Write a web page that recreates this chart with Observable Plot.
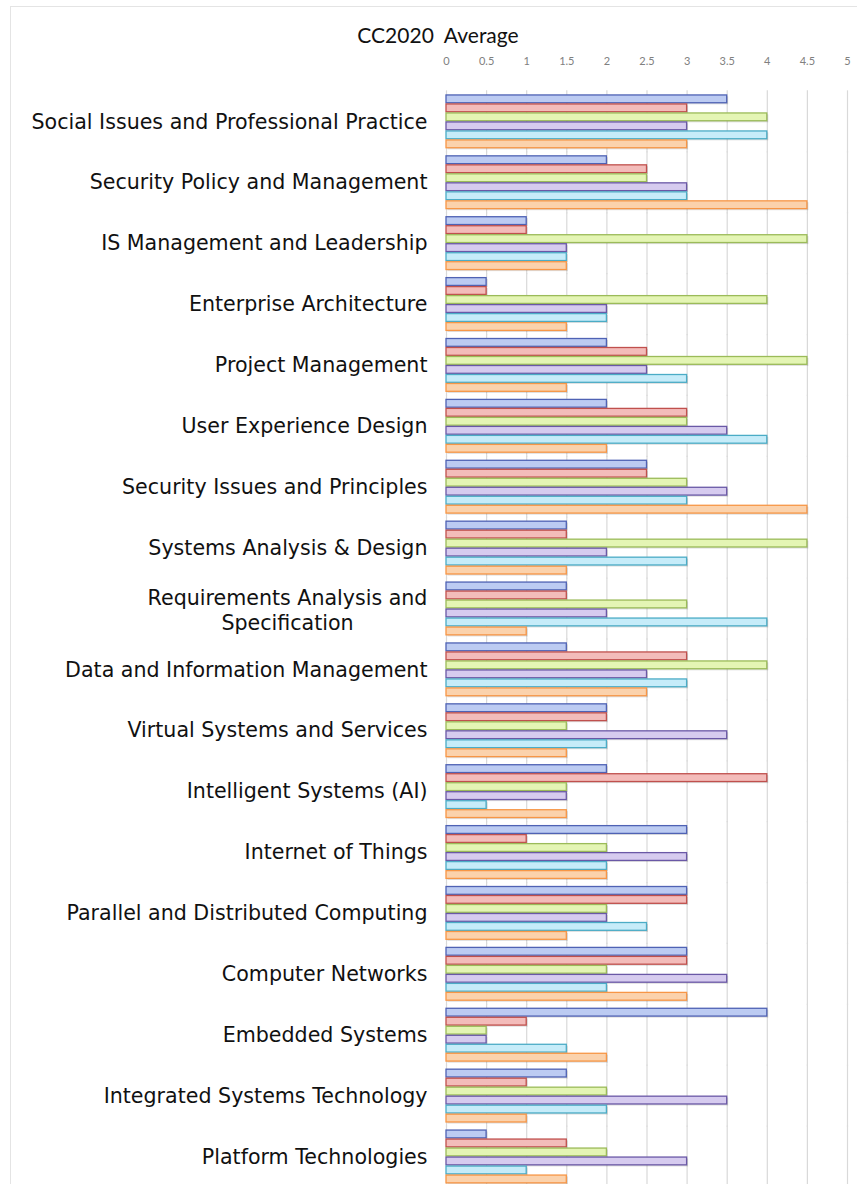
<!DOCTYPE html>
<html><head><meta charset="utf-8">
<script src="https://cdn.jsdelivr.net/npm/d3@7"></script>
<script src="https://cdn.jsdelivr.net/npm/@observablehq/plot@0.6"></script>
<style>
html,body{margin:0;padding:0;background:#fff;overflow:hidden;}
#wrap{position:relative;width:857px;height:1184px;overflow:hidden;}
#frame{position:absolute;left:10px;top:6px;width:900px;height:1300px;border:1px solid #e4e4e4;}
#title{position:absolute;top:22px;left:0;width:876px;text-align:center;font:21px Lato, sans-serif;color:#111;white-space:pre;}
#chart{position:absolute;left:0;top:0;}
</style></head><body>
<div id="wrap"><div id="frame"></div><div id="chart"></div><div id="title">CC2020  Average</div></div>
<script>
const categories = [
  "Social Issues and Professional Practice",
  "Security Policy and Management",
  "IS Management and Leadership",
  "Enterprise Architecture",
  "Project Management",
  "User Experience Design",
  "Security Issues and Principles",
  "Systems Analysis & Design",
  "Requirements Analysis and\nSpecification",
  "Data and Information Management",
  "Virtual Systems and Services",
  "Intelligent Systems (AI)",
  "Internet of Things",
  "Parallel and Distributed Computing",
  "Computer Networks",
  "Embedded Systems",
  "Integrated Systems Technology",
  "Platform Technologies"
];
const seriesNames = ["Series 1", "Series 2", "Series 3", "Series 4", "Series 5", "Series 6"];
const series1 = [3.5, 2, 1, 0.5, 2, 2, 2.5, 1.5, 1.5, 1.5, 2, 2, 3, 3, 3, 4, 1.5, 0.5];
const series2 = [3, 2.5, 1, 0.5, 2.5, 3, 2.5, 1.5, 1.5, 3, 2, 4, 1, 3, 3, 1, 1, 1.5];
const series3 = [4, 2.5, 4.5, 4, 4.5, 3, 3, 4.5, 3, 4, 1.5, 1.5, 2, 2, 2, 0.5, 2, 2];
const series4 = [3, 3, 1.5, 2, 2.5, 3.5, 3.5, 2, 2, 2.5, 3.5, 1.5, 3, 2, 3.5, 0.5, 3.5, 3];
const series5 = [4, 3, 1.5, 2, 3, 4, 3, 3, 4, 3, 2, 0.5, 2, 2.5, 2, 1.5, 2, 1];
const series6 = [3, 4.5, 1.5, 1.5, 1.5, 2, 4.5, 1.5, 1, 2.5, 1.5, 1.5, 2, 1.5, 3, 2, 1, 1.5];
const tickValues = [0, 0.5, 1, 1.5, 2, 2.5, 3, 3.5, 4, 4.5, 5];
const tickLabels = ["0", "0.5", "1", "1.5", "2", "2.5", "3", "3.5", "4", "4.5", "5"];

const fills = ["#bccbf2", "#f3bcba", "#e4f5b4", "#d6cbef", "#c6ecf9", "#fbd2ac"];
const strokes = ["#4f62b4", "#c0504d", "#9bbb59", "#6a58a6", "#4bacc6", "#f79646"];

const allSeries = [series1, series2, series3, series4, series5, series6];
const data = categories.flatMap((c, i) => allSeries.map((vals, j) => ({category: c, series: seriesNames[j], value: vals[i]})));
const labelData = categories.map(c => ({category: c}));

const barMarks = seriesNames.flatMap((s, j) => [
  Plot.barX(data.filter(d => d.series === s), {fy: "category", y: "series", x: "value", fill: "#000", fillOpacity: 0.13, dx: 1.5, dy: 1.5, insetTop: 0.5, insetBottom: 0.5}),
  Plot.barX(data.filter(d => d.series === s), {fy: "category", y: "series", x: "value", fill: fills[j], stroke: strokes[j], strokeWidth: 1.3, insetTop: 0.6, insetBottom: 0.6})
]);

const chart = Plot.plot({
  width: 857,
  height: 1195,
  marginLeft: 446,
  marginRight: 10,
  marginTop: 91,
  marginBottom: 8,
  style: {fontFamily: "DejaVu Sans", background: "transparent"},
  x: {domain: [0, 5], axis: null},
  y: {domain: seriesNames, padding: 0, axis: null},
  fy: {domain: categories, paddingInner: 0.11, paddingOuter: 0.055, round: false, axis: null, label: null},
  marks: [
    Plot.ruleX(tickValues, {stroke: "#d9d9d9", strokeWidth: 1.2, insetTop: -4, insetBottom: -4}),
    ...barMarks,
    Plot.text(labelData.filter(d => !d.category.includes("\n")), {fy: "category", text: "category", frameAnchor: "left", dx: -19, textAnchor: "end", fontSize: 20.6, fill: "#111"}),
    Plot.text(labelData.filter(d => d.category.includes("\n")), {fy: "category", text: "category", frameAnchor: "left", dx: -159, textAnchor: "middle", fontSize: 20.6, lineHeight: 1.22, fill: "#111"}),
    Plot.axisX(tickValues, {anchor: "top", label: null, tickSize: 0, tickPadding: 30, fontSize: 11, fontFamily: "Lato", fill: "#808080", tickFormat: (d, i) => tickLabels[i]})
  ]
});
document.getElementById("chart").appendChild(chart);
</script>
</body></html>
